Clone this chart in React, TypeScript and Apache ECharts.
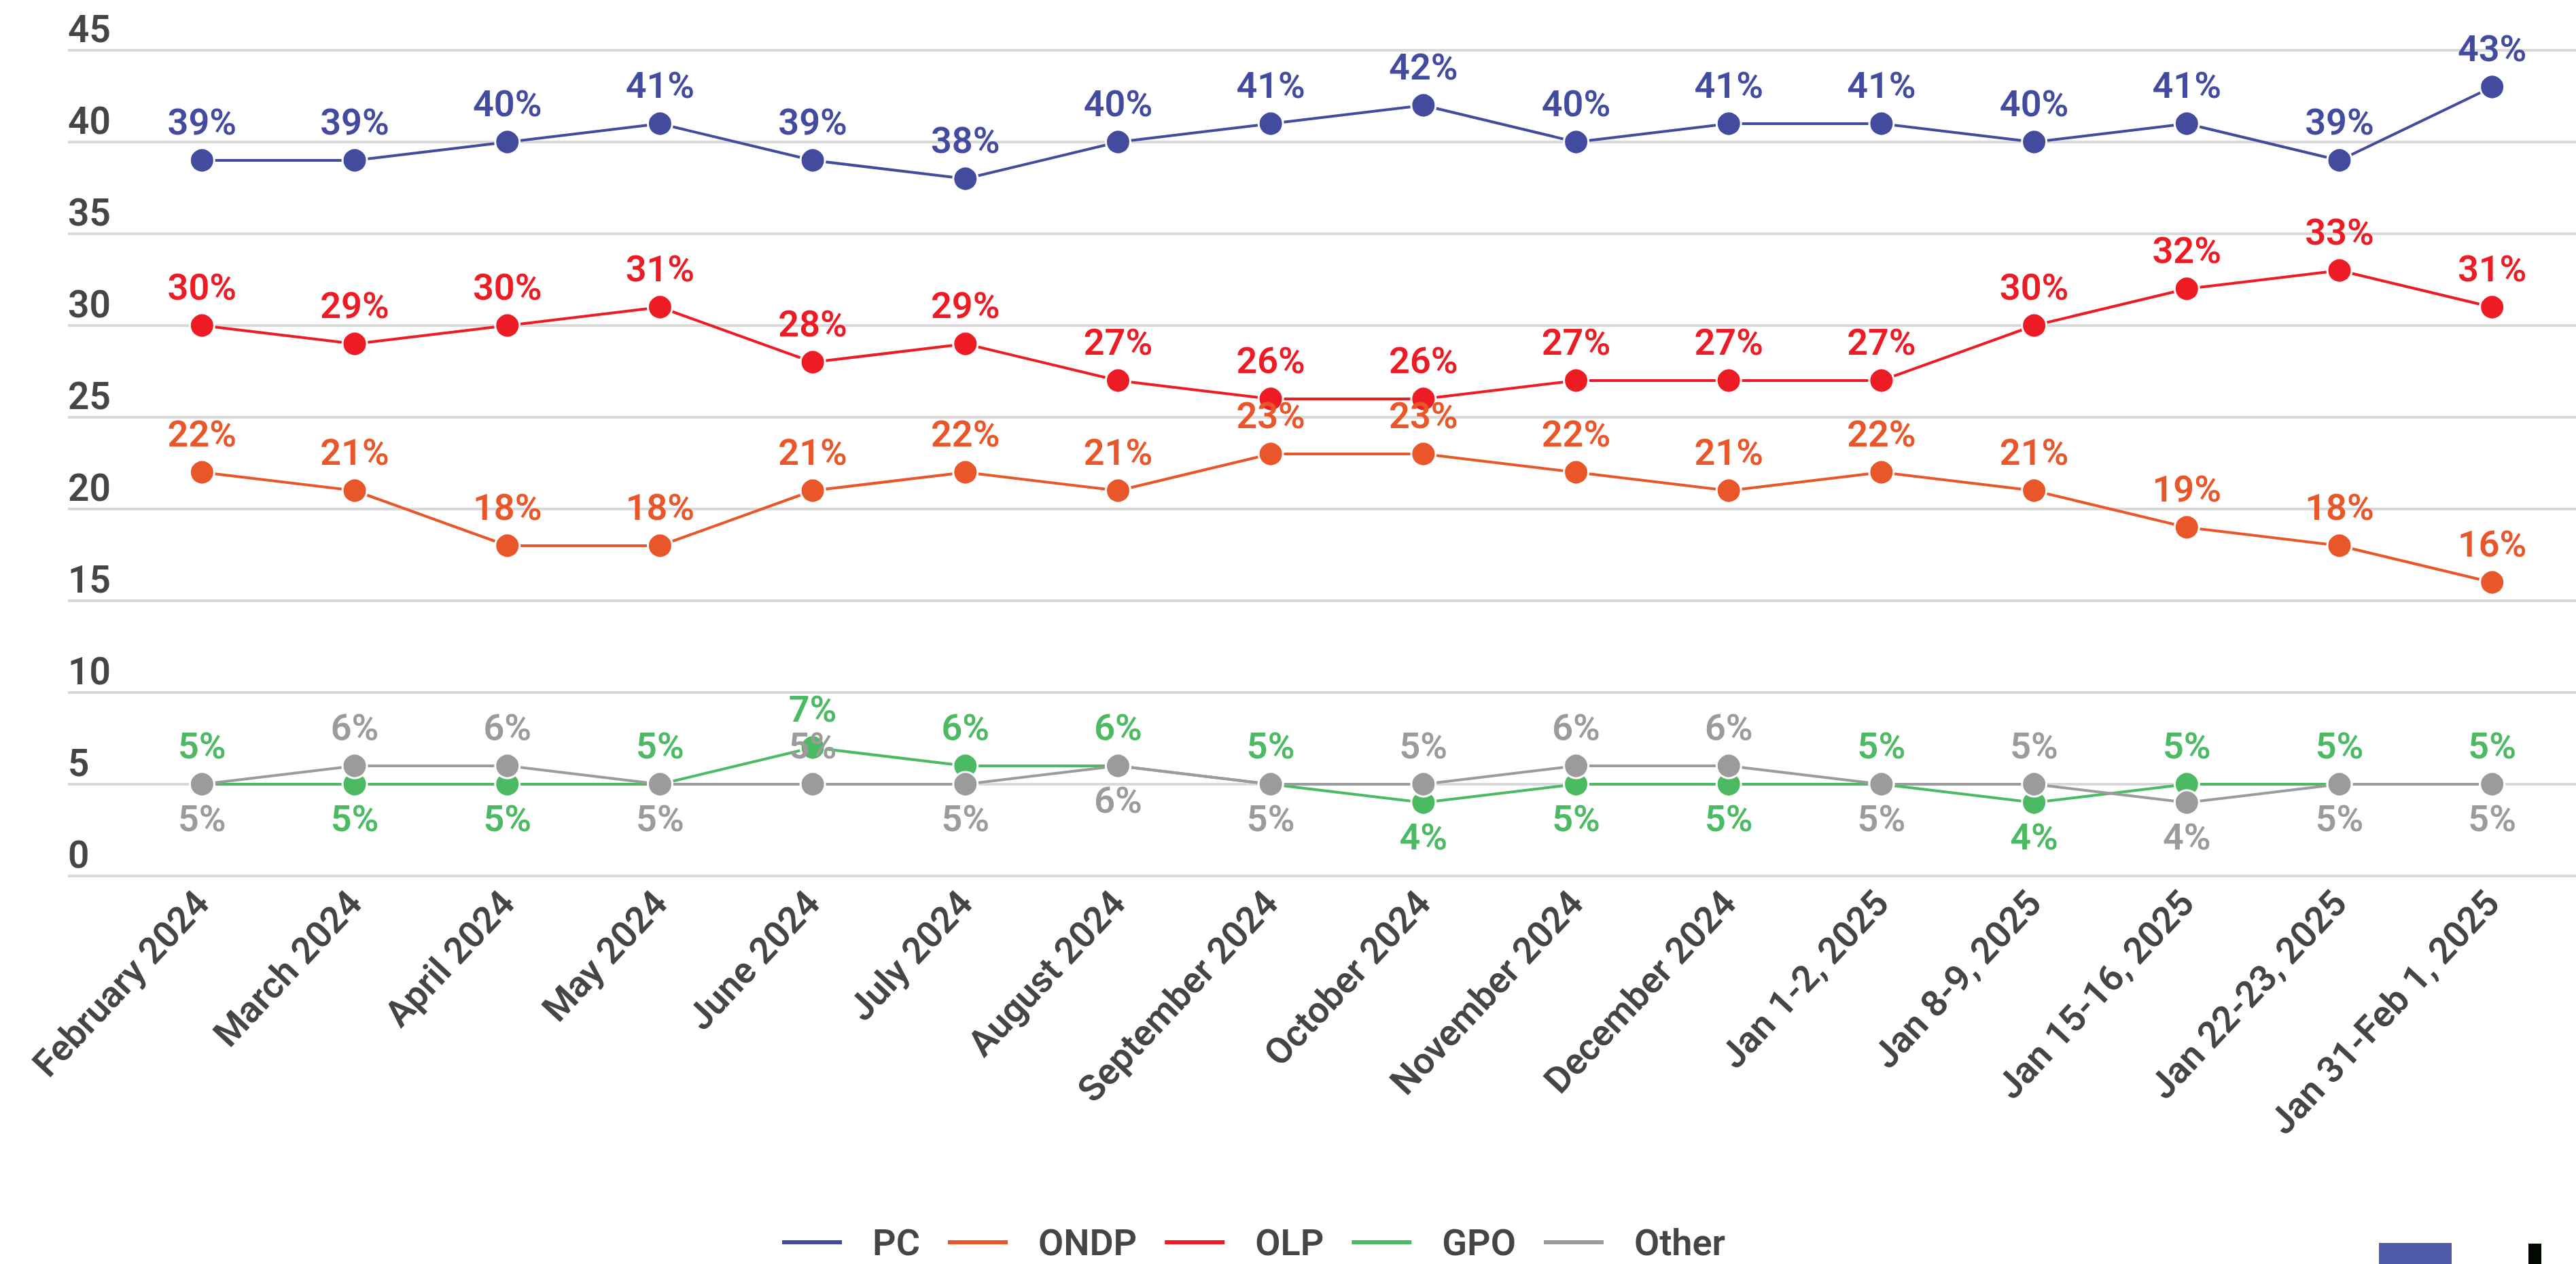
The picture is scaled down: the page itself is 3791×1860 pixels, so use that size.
import React, { useEffect, useRef } from "react";
import * as echarts from "echarts";

const categories = [
  "February 2024", "March 2024", "April 2024", "May 2024", "June 2024", "July 2024",
  "August 2024", "September 2024", "October 2024", "November 2024", "December 2024",
  "Jan 1-2, 2025", "Jan 8-9, 2025", "Jan 15-16, 2025", "Jan 22-23, 2025", "Jan 31-Feb 1, 2025",
];

const pc = [39, 39, 40, 41, 39, 38, 40, 41, 42, 40, 41, 41, 40, 41, 39, 43];
const ondp = [22, 21, 18, 18, 21, 22, 21, 23, 23, 22, 21, 22, 21, 19, 18, 16];
const olp = [30, 29, 30, 31, 28, 29, 27, 26, 26, 27, 27, 27, 30, 32, 33, 31];
const gpo = [5, 5, 5, 5, 7, 6, 6, 5, 4, 5, 5, 5, 4, 5, 5, 5];
const other = [5, 6, 6, 5, 5, 5, 6, 5, 5, 6, 6, 5, 5, 4, 5, 5];

const yTicks = { min: 0, max: 45, interval: 5 };

// label placement (style) for the two low series
const gpoLabelPos = ["top", "bottom", "bottom", "top", "top", "top", "top", "top", "bottom", "bottom", "bottom", "top", "bottom", "top", "top", "top"];
const otherLabelPos = ["bottom", "top", "top", "bottom", "top", "bottom", "bottom", "bottom", "top", "top", "top", "bottom", "top", "bottom", "bottom", "bottom"];

const FONT = "Roboto";
const TEXT = "#454545";

function makeSeries(name: string, values: number[], color: string, positions?: string[]) {
  return {
    name,
    type: "line",
    xAxisIndex: 1,
    yAxisIndex: 1,
    data: values.map((v, i) => {
      const pos = positions ? positions[i] : "top";
      return {
        value: v,
        label: { position: pos, distance: pos === "top" ? 10 : 4 },
      };
    }),
    symbol: "circle",
    symbolSize: 36,
    lineStyle: { color, width: 4 },
    itemStyle: { color, borderColor: "#ffffff", borderWidth: 3 },
    label: {
      show: true,
      formatter: "{c}%",
      color,
      fontFamily: FONT,
      fontSize: 54,
      fontWeight: 600,
    },
    emphasis: { disabled: true },
  };
}

export default function App() {
  const ref = useRef<HTMLDivElement>(null);
  useEffect(() => {
    if (!ref.current) return;
    const chart = echarts.init(ref.current, null, { renderer: "svg" });
    chart.setOption({
      animation: false,
      backgroundColor: "#ffffff",
      textStyle: { fontFamily: FONT },
      grid: [
        { left: 100, right: 0, top: 74, bottom: 571 },
        { left: 185, right: 11, top: 74, bottom: 571 },
      ],
      xAxis: [
        { type: "category", gridIndex: 0, data: categories, show: false },
        {
          type: "category",
          gridIndex: 1,
          data: categories,
          boundaryGap: true,
          axisLine: { show: false },
          axisTick: { show: false },
          axisLabel: {
            rotate: 47,
            margin: 30,
            interval: 0,
            color: TEXT,
            fontFamily: FONT,
            fontSize: 54,
            fontWeight: 600,
          },
        },
      ],
      yAxis: [
        {
          type: "value",
          gridIndex: 0,
          min: yTicks.min,
          max: yTicks.max,
          interval: yTicks.interval,
          axisLine: { show: false },
          axisTick: { show: false },
          splitLine: { show: true, lineStyle: { color: "#d9d9d9", width: 4 } },
          axisLabel: {
            inside: true,
            margin: 0,
            align: "left",
            verticalAlign: "bottom",
            padding: [0, 0, 4, 0],
            color: TEXT,
            fontFamily: FONT,
            fontSize: 55,
            fontWeight: 600,
          },
        },
        {
          type: "value",
          gridIndex: 1,
          min: yTicks.min,
          max: yTicks.max,
          interval: yTicks.interval,
          show: false,
          splitLine: { show: false },
        },
      ],
      legend: {
        left: 1144,
        top: 1796,
        icon: "rect",
        itemWidth: 90,
        itemHeight: 8,
        itemGap: 39,
        textStyle: {
          color: TEXT,
          fontFamily: FONT,
          fontSize: 54,
          fontWeight: 600,
          padding: [0, 0, 0, 39],
        },
        data: ["PC", "ONDP", "OLP", "GPO", "Other"],
      },
      series: [
        makeSeries("PC", pc, "#434b9e"),
        makeSeries("ONDP", ondp, "#e8562a"),
        makeSeries("OLP", olp, "#ed1c24"),
        makeSeries("GPO", gpo, "#4cb963", gpoLabelPos),
        makeSeries("Other", other, "#9b9b9b", otherLabelPos),
      ],
      graphic: [
        { type: "rect", left: 3501, top: 1829, shape: { width: 107, height: 31 }, style: { fill: "#4f5aa8" } },
        { type: "rect", left: 3721, top: 1830, shape: { width: 19, height: 30 }, style: { fill: "#000800" } },
      ],
    });
    return () => chart.dispose();
  }, []);
  return (
    <div
      ref={ref}
      style={{ position: "fixed", left: 0, top: 0, width: 3791, height: 1860 }}
    />
  );
}
